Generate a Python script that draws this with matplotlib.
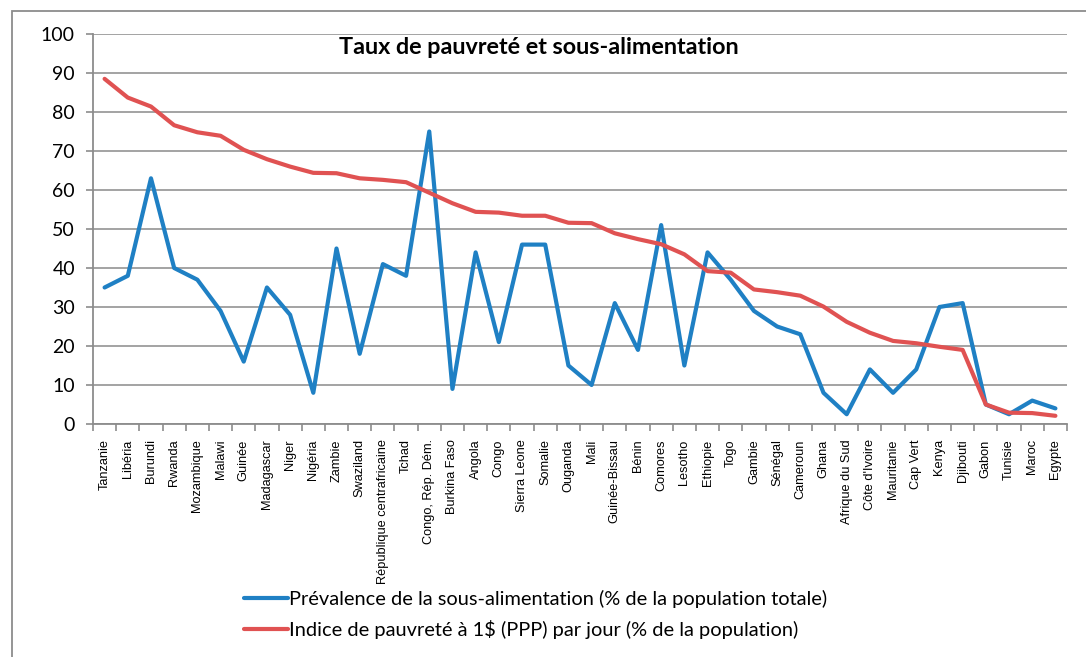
import numpy as np
import matplotlib
matplotlib.use("Agg")
import matplotlib.pyplot as plt
from matplotlib.patches import Rectangle

# pays (ordre du graphique)
pays = ["Tanzanie", "Libéria", "Burundi", "Rwanda", "Mozambique", "Malawi", "Guinée",
        "Madagascar", "Niger", "Nigéria", "Zambie", "Swaziland", "République centrafricaine",
        "Tchad", "Congo, Rép. Dém.", "Burkina Faso", "Angola", "Congo", "Sierra Leone",
        "Somalie", "Ouganda", "Mali", "Guinée-Bissau", "Bénin", "Comores", "Lesotho",
        "Ethiopie", "Togo", "Gambie", "Sénégal", "Cameroun", "Ghana", "Afrique du Sud",
        "Côte d'Ivoire", "Mauritanie", "Cap Vert", "Kenya", "Djibouti", "Gabon", "Tunisie",
        "Maroc", "Egypte"]

# prévalence de la sous-alimentation (%)
sous_alim = [35, 38, 63, 40, 37, 29, 16, 35, 28, 8, 45, 18, 41, 38, 75, 9, 44, 21, 46,
             46, 15, 10, 31, 19, 51, 15, 44, 37, 29, 25, 23, 8, 2.5, 14, 8, 14, 30, 31,
             5, 2.5, 6, 4]

# indice de pauvreté à 1$ par jour (%)
pauvrete = [88.5, 83.7, 81.4, 76.6, 74.8, 73.9, 70.3, 67.9, 66.0, 64.4, 64.3, 63.0, 62.6,
            62.0, 59.3, 56.6, 54.4, 54.2, 53.4, 53.4, 51.6, 51.5, 48.9, 47.4, 46.1, 43.5,
            39.2, 38.8, 34.5, 33.8, 32.9, 30.1, 26.2, 23.4, 21.3, 20.7, 19.8, 19.0, 5.0,
            2.9, 2.8, 2.1]

fig = plt.figure(figsize=(10.86, 6.57), dpi=100)
ax = fig.add_axes([93/1086, 1-424/657, 974/1086, 390/657])

x = np.arange(len(pays))
l1, = ax.plot(x, sous_alim, color="#1f80c4", lw=3.0, solid_joinstyle="round",
              solid_capstyle="round",
              label="Prévalence de la sous-alimentation (% de la population totale)")
l2, = ax.plot(x, pauvrete, color="#e05252", lw=3.0, solid_joinstyle="round",
              solid_capstyle="round",
              label="Indice de pauvreté à 1$ (PPP) par jour (% de la population)")

ax.set_xlim(-0.5, len(pays) - 0.5)
ax.set_ylim(0, 100)
ax.set_yticks(np.arange(0, 101, 10))
ax.yaxis.grid(True, color="#9c9c9c", lw=1.3)
ax.set_axisbelow(True)

ax.set_xticks(x)
ax.set_xticklabels(pays, rotation=90, fontsize=9.2,
                   family=["Liberation Sans Narrow", "Liberation Sans"])
ax.tick_params(axis="x", which="major", length=0, pad=11)
ax.set_xticks(np.arange(-0.5, len(pays), 1), minor=True)
ax.tick_params(axis="x", which="minor", length=5, color="#8c8c8c", width=1.2)
ax.tick_params(axis="y", length=5, color="#8c8c8c", width=1.2, labelsize=14, pad=8)
for lab in ax.get_yticklabels():
    lab.set_family("Lato")

for s in ["top", "right"]:
    ax.spines[s].set_visible(False)
for s in ["left", "bottom"]:
    ax.spines[s].set_color("#8c8c8c")
    ax.spines[s].set_linewidth(1.3)

fig.text(539/1086, 1-48/657, "Taux de pauvreté et sous-alimentation", ha="center",
         va="center", fontsize=16.8, fontweight="bold", family="Lato")

fig.legend(handles=[l1, l2], loc="upper left", bbox_to_anchor=(226/1086, 1-572/657),
           frameon=False, prop={"family": "Lato", "size": 14.4},
           handlelength=2.2, handletextpad=0.05, labelspacing=0.6)

fig.add_artist(Rectangle((12/1086, -0.1), 1.2, 1-11/657 + 0.1, transform=fig.transFigure,
                         fill=False, edgecolor="#8c8c8c", lw=1.3))

fig.savefig("out.png", dpi=100)
